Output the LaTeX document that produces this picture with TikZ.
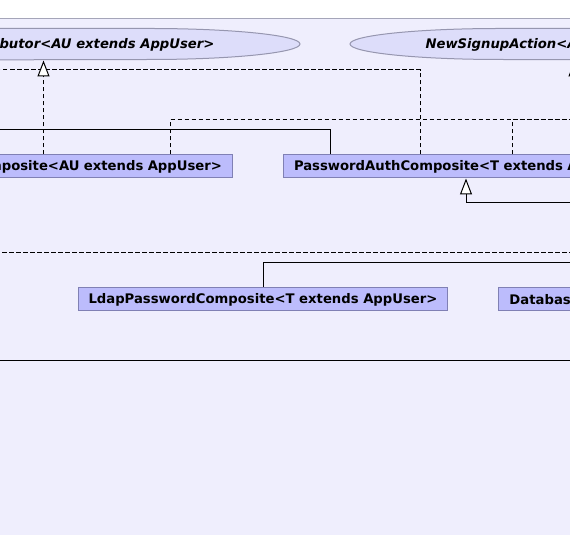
\documentclass[tikz,border=0pt]{standalone}
\usepackage{fontspec}
\setmainfont{DejaVu Sans}
\usetikzlibrary{positioning, arrows.meta}

\definecolor{bgfill}{RGB}{239,238,253}
\definecolor{frameline}{RGB}{165,165,185}
\definecolor{clsfill}{RGB}{188,188,252}
\definecolor{clsborder}{RGB}{128,128,180}
\definecolor{ucfill}{RGB}{221,221,250}
\definecolor{ucborder}{RGB}{150,150,175}

\begin{document}
\begin{tikzpicture}[
        x=1pt, y=1pt, line width=1pt,
        every node/.style={font=\bfseries\fontsize{13.2}{15}\selectfont},
        cls/.style={draw=clsborder, fill=clsfill, rectangle, minimum height=23pt, inner xsep=10.5pt, inner ysep=0pt},
        ucarea/.style={rectangle, minimum width=600pt, minimum height=31pt, inner sep=0pt},
        ucline/.style={draw=ucborder, fill=ucfill},
        uctext/.style={font=\bfseries\itshape\fontsize{13.2}{15}\selectfont, inner sep=0pt},
        dashline/.style={dash pattern=on 4.5pt off 2.5pt},
        realize/.style={dashline, -{Triangle[length=16pt, width=12pt, fill=white]}},
        extends/.style={-{Triangle[length=16pt, width=12pt, fill=white]}}
    ]

    \useasboundingbox (0,0) rectangle (570,535);
    \clip (0,0) rectangle (570,535);

    % background
    \fill[bgfill] (0,0) rectangle (570,516);
    \draw[frameline] (0,516) -- (570,516);

    % use cases
    \node[ucarea, anchor=east] (distributor) at (300,490.5) {};
    \node[ucarea, anchor=west] (signup) at (350,490.5) {};
    \filldraw[ucline] (distributor.north west) -- ([xshift=-150pt]distributor.north east)
        arc[start angle=90, end angle=-90, x radius=150pt, y radius=15.5pt] -- (distributor.south west);
    \filldraw[ucline] (signup.north east) -- ([xshift=150pt]signup.north west)
        arc[start angle=90, end angle=270, x radius=150pt, y radius=15.5pt] -- (signup.south east);
    \node[uctext, anchor=east] (distributor-label) at ([xshift=-85pt]distributor.east) {ibutor<AU extends AppUser>};
    \node[uctext, anchor=west] (signup-label) at ([xshift=75pt]signup.west) {NewSignupAction<A};

    % classes
    \node[cls, text width=300pt, align=right, anchor=east] (leftcomp) at (233,368.5) {mposite<AU extends AppUser>};
    \node[cls, text width=300pt, align=left, right=50pt of leftcomp] (pwauth) {PasswordAuthComposite<T extends A};
    \node[cls] (ldap) at (263,235.5) {LdapPasswordComposite<T extends AppUser>};
    \node[cls, text width=100pt, align=left, right=50pt of ldap] (dbcomp) {Databas};

    % loose ends
    \coordinate (farleft-a) at (-5,465);
    \coordinate (farleft-b) at (-5,405);
    \coordinate (farleft-c) at (-5,282);
    \coordinate (farleft-e) at (-5,174);
    \coordinate (farright-a) at (575,415);
    \coordinate (farright-b) at (575,332);
    \coordinate (farright-c) at (575,282);
    \coordinate (farright-d) at (575,272);
    \coordinate (farright-e) at (575,174);
    \coordinate (distributor-foot) at ([xshift=44pt]distributor.south);
    \coordinate (signup-foot) at ([xshift=-76pt]signup.south);

    \draw[dashline] ([xshift=137pt]pwauth.north west) |- (farleft-a);
    \draw[realize] (distributor-foot |- leftcomp.north) -- (distributor-foot);
    \draw[realize] (signup-foot |- pwauth.north) -- (signup-foot);

    \draw[dashline] ([xshift=-63pt]leftcomp.north east) |- (farright-a);
    \draw[dashline] ([xshift=229pt]pwauth.north west) |- (farright-a);
    \draw ([xshift=47pt]pwauth.north west) |- (farleft-b);

    \draw[extends] (farright-b) -| ([xshift=183pt]pwauth.south west);

    \draw[dashline] (farleft-c) -- (farright-c);
    \draw (farright-d) -| (ldap.north);
    \draw (farleft-e) -- (farright-e);

\end{tikzpicture}
\end{document}
